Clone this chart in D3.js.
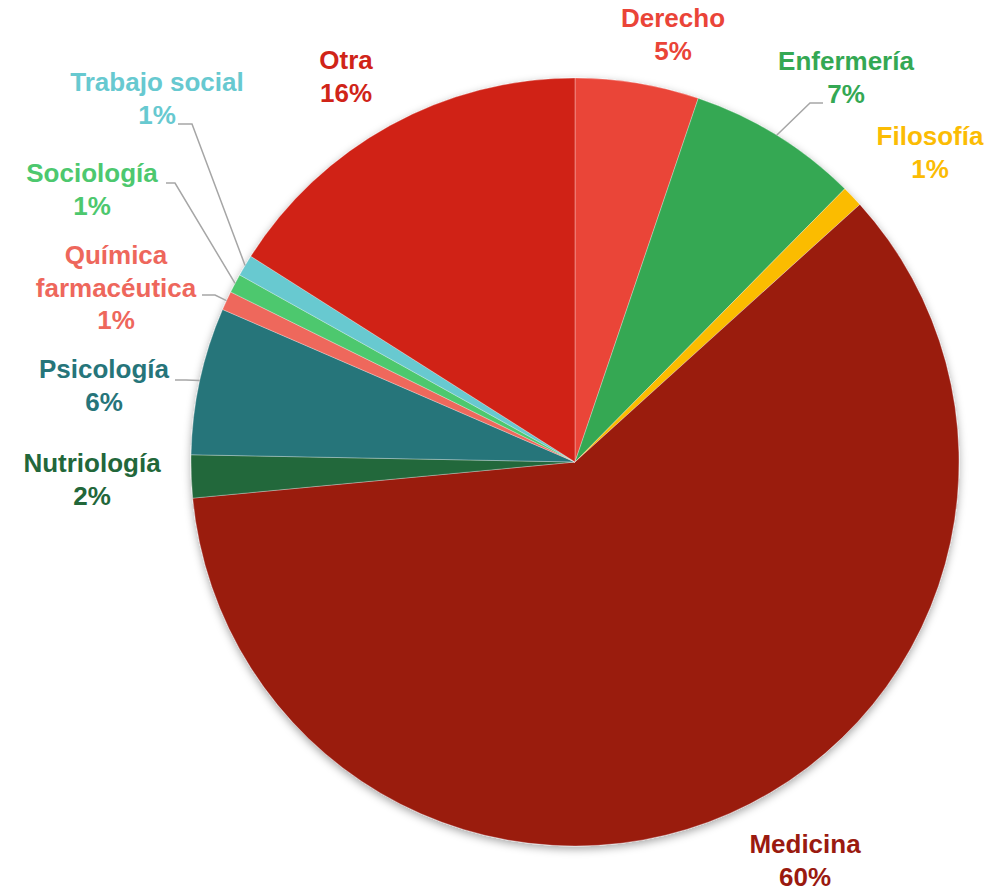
<!DOCTYPE html>
<html>
<head>
<meta charset="utf-8">
<script src="https://cdn.jsdelivr.net/npm/d3@7"></script>
<style>
  html, body { margin: 0; padding: 0; background: #ffffff; }
  svg { display: block; }
  text { font-family: "Liberation Sans", Arial, sans-serif; font-weight: bold; }
</style>
</head>
<body>
<svg id="chart" width="1001" height="891"></svg>
<script>
// ---- data ----
const categories = ["Derecho", "Enfermería", "Filosofía", "Medicina", "Nutriología",
                    "Psicología", "Química farmacéutica", "Sociología", "Trabajo social", "Otra"];
const values = [5.2, 7.2, 0.9, 60.2, 1.8, 6.2, 0.8, 0.8, 0.9, 16.0];
const percentLabels = ["5%", "7%", "1%", "60%", "2%", "6%", "1%", "1%", "1%", "16%"];
const nameLines = [["Derecho"], ["Enfermería"], ["Filosofía"], ["Medicina"], ["Nutriología"],
                   ["Psicología"], ["Química", "farmacéutica"], ["Sociología"], ["Trabajo social"], ["Otra"]];

// ---- styles / layout ----
const colors = ["#EA4438", "#34A853", "#FBBC04", "#9A1A10", "#22673A",
                "#26757A", "#EE675C", "#4DC86E", "#67C9D0", "#D02418"];
const W = 1001, H = 891;
const cx = 575, cy = 462, R = 384;
const lineH = 32.5;
// label anchor: center x, first baseline y
const labelPos = {
  "Derecho": [673, 27],
  "Enfermería": [846, 70],
  "Filosofía": [930, 145],
  "Medicina": [805, 853],
  "Nutriología": [92, 472],
  "Psicología": [104, 378],
  "Química farmacéutica": [116, 264],
  "Sociología": [92, 182],
  "Trabajo social": [157, 91],
  "Otra": [346, 69]
};
// leader lines: elbow point and end point (label side)
const leaders = {
  "Enfermería": [[810, 103], [823, 103]],
  "Trabajo social": [[192, 124], [178, 124]],
  "Sociología": [[175, 183], [166, 183]],
  "Química farmacéutica": [[215, 295], [202, 295]],
  "Psicología": [[186, 380], [175, 380]]
};

const svg = d3.select("#chart");
const defs = svg.append("defs");
const f = defs.append("filter").attr("id", "shadow")
  .attr("x", "-10%").attr("y", "-10%").attr("width", "120%").attr("height", "120%");
f.append("feDropShadow").attr("dx", 0).attr("dy", 3).attr("stdDeviation", 4)
  .attr("flood-color", "#000").attr("flood-opacity", 0.35);

const pie = d3.pie().sort(null).value(d => d)(values);
const arc = d3.arc().innerRadius(0).outerRadius(R);

const g = svg.append("g").attr("transform", `translate(${cx},${cy})`);
const slices = g.append("g").attr("filter", "url(#shadow)");
slices.selectAll("path").data(pie).enter().append("path")
  .attr("d", arc)
  .attr("fill", (d, i) => colors[i])
  .attr("stroke", "#ffffff")
  .attr("stroke-opacity", 0.5)
  .attr("stroke-width", 0.6);

// leader lines
pie.forEach((d, i) => {
  const name = categories[i];
  if (!leaders[name]) return;
  const mid = (d.startAngle + d.endAngle) / 2;
  const sx = cx + R * Math.sin(mid), sy = cy - R * Math.cos(mid);
  const pts = [[sx, sy]].concat(leaders[name]);
  svg.append("path")
    .attr("d", d3.line()(pts))
    .attr("fill", "none")
    .attr("stroke", "#A6A6A6")
    .attr("stroke-width", 1.5);
});

// labels
categories.forEach((name, i) => {
  const [x, y] = labelPos[name];
  const lines = nameLines[i].concat([percentLabels[i]]);
  const t = svg.append("text")
    .attr("text-anchor", "middle")
    .attr("fill", colors[i])
    .attr("font-size", 26);
  lines.forEach((ln, k) => {
    t.append("tspan").attr("x", x).attr("y", y + k * lineH).text(ln);
  });
});
</script>
</body>
</html>
